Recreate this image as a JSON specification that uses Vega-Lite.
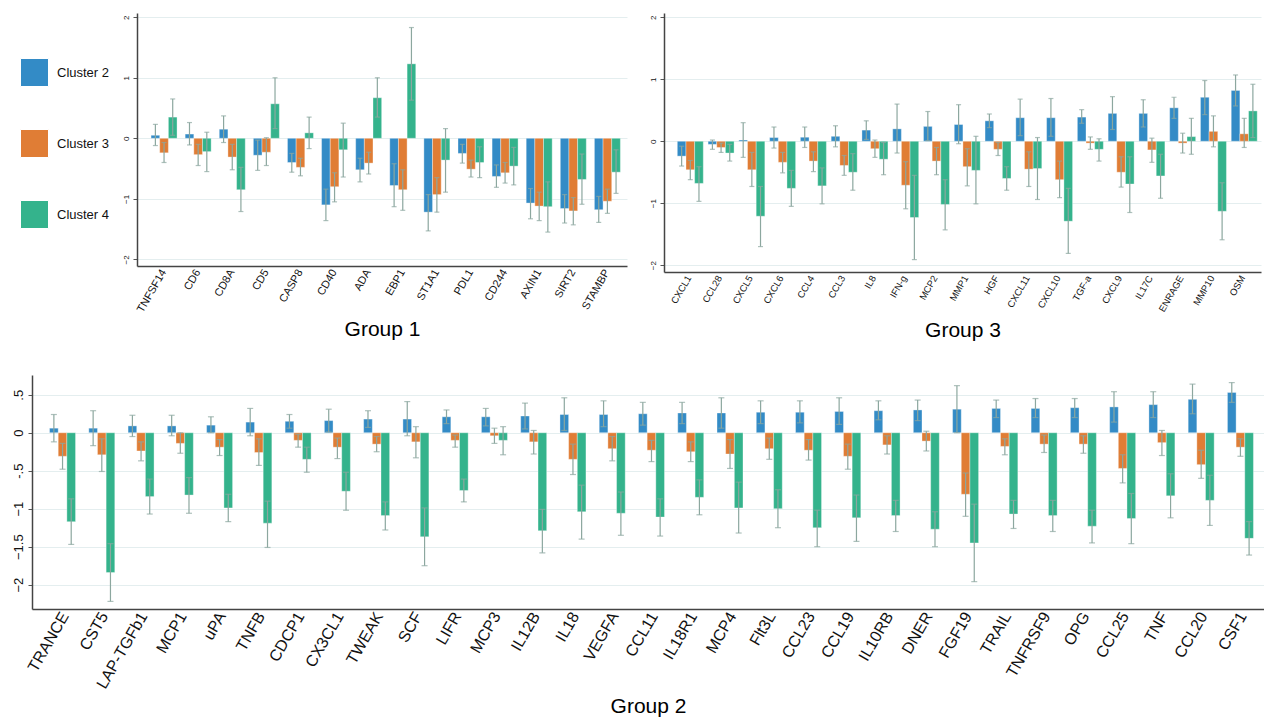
{
"$schema": "https://vega.github.io/schema/vega-lite/v6.json",
"padding": {"left": 12, "top": 13, "right": 0, "bottom": 0},
"background": "white",
"datasets": {
"g1": [
{"g":"TNFSF14","c":"Cluster 2","m":0.05,"lo":-0.12,"hi":0.23},{"g":"TNFSF14","c":"Cluster 3","m":-0.24,"lo":-0.40,"hi":-0.07},{"g":"TNFSF14","c":"Cluster 4","m":0.35,"lo":0.05,"hi":0.65},
{"g":"CD6","c":"Cluster 2","m":0.07,"lo":-0.11,"hi":0.26},{"g":"CD6","c":"Cluster 3","m":-0.27,"lo":-0.45,"hi":-0.10},{"g":"CD6","c":"Cluster 4","m":-0.22,"lo":-0.55,"hi":0.10},
{"g":"CD8A","c":"Cluster 2","m":0.15,"lo":-0.07,"hi":0.37},{"g":"CD8A","c":"Cluster 3","m":-0.31,"lo":-0.52,"hi":-0.10},{"g":"CD8A","c":"Cluster 4","m":-0.85,"lo":-1.21,"hi":-0.48},
{"g":"CD5","c":"Cluster 2","m":-0.28,"lo":-0.53,"hi":-0.03},{"g":"CD5","c":"Cluster 3","m":-0.23,"lo":-0.45,"hi":0.01},{"g":"CD5","c":"Cluster 4","m":0.57,"lo":0.16,"hi":1.0},
{"g":"CASP8","c":"Cluster 2","m":-0.40,"lo":-0.56,"hi":-0.25},{"g":"CASP8","c":"Cluster 3","m":-0.48,"lo":-0.62,"hi":-0.33},{"g":"CASP8","c":"Cluster 4","m":0.09,"lo":-0.17,"hi":0.35},
{"g":"CD40","c":"Cluster 2","m":-1.10,"lo":-1.36,"hi":-0.84},{"g":"CD40","c":"Cluster 3","m":-0.80,"lo":-1.05,"hi":-0.57},{"g":"CD40","c":"Cluster 4","m":-0.19,"lo":-0.64,"hi":0.25},
{"g":"ADA","c":"Cluster 2","m":-0.52,"lo":-0.72,"hi":-0.33},{"g":"ADA","c":"Cluster 3","m":-0.41,"lo":-0.59,"hi":-0.23},{"g":"ADA","c":"Cluster 4","m":0.67,"lo":0.35,"hi":1.0},
{"g":"EBP1","c":"Cluster 2","m":-0.78,"lo":-1.13,"hi":-0.42},{"g":"EBP1","c":"Cluster 3","m":-0.85,"lo":-1.19,"hi":-0.52},{"g":"EBP1","c":"Cluster 4","m":1.23,"lo":0.63,"hi":1.83},
{"g":"ST1A1","c":"Cluster 2","m":-1.22,"lo":-1.53,"hi":-0.93},{"g":"ST1A1","c":"Cluster 3","m":-0.93,"lo":-1.22,"hi":-0.65},{"g":"ST1A1","c":"Cluster 4","m":-0.36,"lo":-0.89,"hi":0.16},
{"g":"PDL1","c":"Cluster 2","m":-0.25,"lo":-0.41,"hi":-0.10},{"g":"PDL1","c":"Cluster 3","m":-0.51,"lo":-0.64,"hi":-0.36},{"g":"PDL1","c":"Cluster 4","m":-0.40,"lo":-0.65,"hi":-0.14},
{"g":"CD244","c":"Cluster 2","m":-0.63,"lo":-0.81,"hi":-0.44},{"g":"CD244","c":"Cluster 3","m":-0.57,"lo":-0.74,"hi":-0.40},{"g":"CD244","c":"Cluster 4","m":-0.46,"lo":-0.77,"hi":-0.15},
{"g":"AXIN1","c":"Cluster 2","m":-1.07,"lo":-1.33,"hi":-0.83},{"g":"AXIN1","c":"Cluster 3","m":-1.12,"lo":-1.36,"hi":-0.89},{"g":"AXIN1","c":"Cluster 4","m":-1.13,"lo":-1.55,"hi":-0.72},
{"g":"SIRT2","c":"Cluster 2","m":-1.16,"lo":-1.40,"hi":-0.93},{"g":"SIRT2","c":"Cluster 3","m":-1.20,"lo":-1.43,"hi":-0.98},{"g":"SIRT2","c":"Cluster 4","m":-0.68,"lo":-1.09,"hi":-0.26},
{"g":"STAMBP","c":"Cluster 2","m":-1.18,"lo":-1.39,"hi":-0.96},{"g":"STAMBP","c":"Cluster 3","m":-1.04,"lo":-1.24,"hi":-0.84},{"g":"STAMBP","c":"Cluster 4","m":-0.56,"lo":-0.91,"hi":-0.19}
],
"g3": [
{"g":"CXCL1","c":"Cluster 2","m":-0.24,"lo":-0.40,"hi":-0.08},{"g":"CXCL1","c":"Cluster 3","m":-0.46,"lo":-0.62,"hi":-0.31},{"g":"CXCL1","c":"Cluster 4","m":-0.68,"lo":-0.97,"hi":-0.41},
{"g":"CCL28","c":"Cluster 2","m":-0.05,"lo":-0.13,"hi":0.02},{"g":"CCL28","c":"Cluster 3","m":-0.10,"lo":-0.18,"hi":-0.03},{"g":"CCL28","c":"Cluster 4","m":-0.19,"lo":-0.32,"hi":-0.05},
{"g":"CXCL5","c":"Cluster 2","m":0.02,"lo":-0.26,"hi":0.30},{"g":"CXCL5","c":"Cluster 3","m":-0.46,"lo":-0.73,"hi":-0.18},{"g":"CXCL5","c":"Cluster 4","m":-1.21,"lo":-1.70,"hi":-0.73},
{"g":"CXCL6","c":"Cluster 2","m":0.06,"lo":-0.11,"hi":0.23},{"g":"CXCL6","c":"Cluster 3","m":-0.34,"lo":-0.51,"hi":-0.18},{"g":"CXCL6","c":"Cluster 4","m":-0.76,"lo":-1.05,"hi":-0.47},
{"g":"CCL4","c":"Cluster 2","m":0.065,"lo":-0.10,"hi":0.23},{"g":"CCL4","c":"Cluster 3","m":-0.32,"lo":-0.49,"hi":-0.17},{"g":"CCL4","c":"Cluster 4","m":-0.72,"lo":-1.01,"hi":-0.43},
{"g":"CCL3","c":"Cluster 2","m":0.08,"lo":-0.09,"hi":0.25},{"g":"CCL3","c":"Cluster 3","m":-0.39,"lo":-0.55,"hi":-0.23},{"g":"CCL3","c":"Cluster 4","m":-0.50,"lo":-0.79,"hi":-0.20},
{"g":"IL8","c":"Cluster 2","m":0.18,"lo":0.03,"hi":0.33},{"g":"IL8","c":"Cluster 3","m":-0.12,"lo":-0.26,"hi":0.02},{"g":"IL8","c":"Cluster 4","m":-0.29,"lo":-0.54,"hi":-0.02},
{"g":"IFN-g","c":"Cluster 2","m":0.20,"lo":-0.19,"hi":0.60},{"g":"IFN-g","c":"Cluster 3","m":-0.71,"lo":-1.09,"hi":-0.33},{"g":"IFN-g","c":"Cluster 4","m":-1.23,"lo":-1.91,"hi":-0.55},
{"g":"MCP2","c":"Cluster 2","m":0.24,"lo":0.01,"hi":0.48},{"g":"MCP2","c":"Cluster 3","m":-0.32,"lo":-0.54,"hi":-0.10},{"g":"MCP2","c":"Cluster 4","m":-1.02,"lo":-1.43,"hi":-0.62},
{"g":"MMP1","c":"Cluster 2","m":0.27,"lo":-0.04,"hi":0.59},{"g":"MMP1","c":"Cluster 3","m":-0.41,"lo":-0.72,"hi":-0.12},{"g":"MMP1","c":"Cluster 4","m":-0.47,"lo":-1.01,"hi":0.08},
{"g":"HGF","c":"Cluster 2","m":0.33,"lo":0.22,"hi":0.44},{"g":"HGF","c":"Cluster 3","m":-0.13,"lo":-0.23,"hi":-0.02},{"g":"HGF","c":"Cluster 4","m":-0.60,"lo":-0.79,"hi":-0.41},
{"g":"CXCL11","c":"Cluster 2","m":0.38,"lo":0.09,"hi":0.68},{"g":"CXCL11","c":"Cluster 3","m":-0.45,"lo":-0.73,"hi":-0.17},{"g":"CXCL11","c":"Cluster 4","m":-0.44,"lo":-0.94,"hi":0.06},
{"g":"CXCL10","c":"Cluster 2","m":0.38,"lo":0.08,"hi":0.69},{"g":"CXCL10","c":"Cluster 3","m":-0.62,"lo":-0.91,"hi":-0.32},{"g":"CXCL10","c":"Cluster 4","m":-1.29,"lo":-1.81,"hi":-0.76},
{"g":"TGF-a","c":"Cluster 2","m":0.39,"lo":0.29,"hi":0.51},{"g":"TGF-a","c":"Cluster 3","m":-0.03,"lo":-0.13,"hi":0.07},{"g":"TGF-a","c":"Cluster 4","m":-0.13,"lo":-0.32,"hi":0.04},
{"g":"CXCL9","c":"Cluster 2","m":0.45,"lo":0.19,"hi":0.72},{"g":"CXCL9","c":"Cluster 3","m":-0.50,"lo":-0.74,"hi":-0.25},{"g":"CXCL9","c":"Cluster 4","m":-0.69,"lo":-1.15,"hi":-0.25},
{"g":"IL17C","c":"Cluster 2","m":0.45,"lo":0.23,"hi":0.67},{"g":"IL17C","c":"Cluster 3","m":-0.14,"lo":-0.34,"hi":0.05},{"g":"IL17C","c":"Cluster 4","m":-0.56,"lo":-0.92,"hi":-0.21},
{"g":"ENRAGE","c":"Cluster 2","m":0.54,"lo":0.37,"hi":0.71},{"g":"ENRAGE","c":"Cluster 3","m":-0.03,"lo":-0.19,"hi":0.13},{"g":"ENRAGE","c":"Cluster 4","m":0.075,"lo":-0.21,"hi":0.37},
{"g":"MMP10","c":"Cluster 2","m":0.71,"lo":0.43,"hi":0.98},{"g":"MMP10","c":"Cluster 3","m":0.16,"lo":-0.09,"hi":0.41},{"g":"MMP10","c":"Cluster 4","m":-1.13,"lo":-1.59,"hi":-0.67},
{"g":"OSM","c":"Cluster 2","m":0.82,"lo":0.57,"hi":1.07},{"g":"OSM","c":"Cluster 3","m":0.12,"lo":-0.10,"hi":0.37},{"g":"OSM","c":"Cluster 4","m":0.49,"lo":0.06,"hi":0.92}
],
"g2": [
{"g":"TRANCE","c":"Cluster 2","m":0.06,"lo":-0.12,"hi":0.24},{"g":"TRANCE","c":"Cluster 3","m":-0.31,"lo":-0.48,"hi":-0.14},{"g":"TRANCE","c":"Cluster 4","m":-1.17,"lo":-1.47,"hi":-0.87},
{"g":"CST5","c":"Cluster 2","m":0.06,"lo":-0.17,"hi":0.29},{"g":"CST5","c":"Cluster 3","m":-0.29,"lo":-0.51,"hi":-0.08},{"g":"CST5","c":"Cluster 4","m":-1.84,"lo":-2.22,"hi":-1.46},
{"g":"LAP-TGFb1","c":"Cluster 2","m":0.09,"lo":-0.05,"hi":0.23},{"g":"LAP-TGFb1","c":"Cluster 3","m":-0.24,"lo":-0.37,"hi":-0.12},{"g":"LAP-TGFb1","c":"Cluster 4","m":-0.84,"lo":-1.07,"hi":-0.61},
{"g":"MCP1","c":"Cluster 2","m":0.09,"lo":-0.04,"hi":0.23},{"g":"MCP1","c":"Cluster 3","m":-0.14,"lo":-0.27,"hi":0.0},{"g":"MCP1","c":"Cluster 4","m":-0.82,"lo":-1.06,"hi":-0.59},
{"g":"uPA","c":"Cluster 2","m":0.10,"lo":0.0,"hi":0.21},{"g":"uPA","c":"Cluster 3","m":-0.19,"lo":-0.30,"hi":-0.09},{"g":"uPA","c":"Cluster 4","m":-0.99,"lo":-1.17,"hi":-0.81},
{"g":"TNFB","c":"Cluster 2","m":0.14,"lo":-0.04,"hi":0.32},{"g":"TNFB","c":"Cluster 3","m":-0.26,"lo":-0.43,"hi":-0.08},{"g":"TNFB","c":"Cluster 4","m":-1.19,"lo":-1.51,"hi":-0.90},
{"g":"CDCP1","c":"Cluster 2","m":0.15,"lo":0.06,"hi":0.24},{"g":"CDCP1","c":"Cluster 3","m":-0.10,"lo":-0.19,"hi":-0.02},{"g":"CDCP1","c":"Cluster 4","m":-0.35,"lo":-0.52,"hi":-0.19},
{"g":"CX3CL1","c":"Cluster 2","m":0.16,"lo":0.01,"hi":0.31},{"g":"CX3CL1","c":"Cluster 3","m":-0.19,"lo":-0.34,"hi":-0.07},{"g":"CX3CL1","c":"Cluster 4","m":-0.77,"lo":-1.02,"hi":-0.52},
{"g":"TWEAK","c":"Cluster 2","m":0.18,"lo":0.07,"hi":0.29},{"g":"TWEAK","c":"Cluster 3","m":-0.15,"lo":-0.25,"hi":-0.05},{"g":"TWEAK","c":"Cluster 4","m":-1.09,"lo":-1.28,"hi":-0.91},
{"g":"SCF","c":"Cluster 2","m":0.18,"lo":-0.04,"hi":0.41},{"g":"SCF","c":"Cluster 3","m":-0.12,"lo":-0.33,"hi":0.08},{"g":"SCF","c":"Cluster 4","m":-1.37,"lo":-1.75,"hi":-0.99},
{"g":"LIFR","c":"Cluster 2","m":0.21,"lo":0.12,"hi":0.30},{"g":"LIFR","c":"Cluster 3","m":-0.10,"lo":-0.19,"hi":-0.03},{"g":"LIFR","c":"Cluster 4","m":-0.76,"lo":-0.91,"hi":-0.61},
{"g":"MCP3","c":"Cluster 2","m":0.21,"lo":0.09,"hi":0.32},{"g":"MCP3","c":"Cluster 3","m":-0.04,"lo":-0.14,"hi":0.06},{"g":"MCP3","c":"Cluster 4","m":-0.10,"lo":-0.29,"hi":0.08},
{"g":"IL12B","c":"Cluster 2","m":0.22,"lo":0.05,"hi":0.39},{"g":"IL12B","c":"Cluster 3","m":-0.12,"lo":-0.28,"hi":0.03},{"g":"IL12B","c":"Cluster 4","m":-1.29,"lo":-1.58,"hi":-1.01},
{"g":"IL18","c":"Cluster 2","m":0.24,"lo":0.03,"hi":0.46},{"g":"IL18","c":"Cluster 3","m":-0.35,"lo":-0.55,"hi":-0.15},{"g":"IL18","c":"Cluster 4","m":-1.04,"lo":-1.40,"hi":-0.69},
{"g":"VEGFA","c":"Cluster 2","m":0.24,"lo":0.08,"hi":0.42},{"g":"VEGFA","c":"Cluster 3","m":-0.21,"lo":-0.37,"hi":-0.05},{"g":"VEGFA","c":"Cluster 4","m":-1.06,"lo":-1.35,"hi":-0.78},
{"g":"CCL11","c":"Cluster 2","m":0.25,"lo":0.10,"hi":0.40},{"g":"CCL11","c":"Cluster 3","m":-0.23,"lo":-0.38,"hi":-0.10},{"g":"CCL11","c":"Cluster 4","m":-1.11,"lo":-1.36,"hi":-0.87},
{"g":"IL18R1","c":"Cluster 2","m":0.26,"lo":0.12,"hi":0.40},{"g":"IL18R1","c":"Cluster 3","m":-0.25,"lo":-0.38,"hi":-0.12},{"g":"IL18R1","c":"Cluster 4","m":-0.85,"lo":-1.08,"hi":-0.62},
{"g":"MCP4","c":"Cluster 2","m":0.26,"lo":0.06,"hi":0.46},{"g":"MCP4","c":"Cluster 3","m":-0.28,"lo":-0.47,"hi":-0.09},{"g":"MCP4","c":"Cluster 4","m":-0.99,"lo":-1.32,"hi":-0.65},
{"g":"Flt3L","c":"Cluster 2","m":0.27,"lo":0.12,"hi":0.42},{"g":"Flt3L","c":"Cluster 3","m":-0.21,"lo":-0.35,"hi":-0.07},{"g":"Flt3L","c":"Cluster 4","m":-1.00,"lo":-1.25,"hi":-0.75},
{"g":"CCL23","c":"Cluster 2","m":0.27,"lo":0.13,"hi":0.42},{"g":"CCL23","c":"Cluster 3","m":-0.23,"lo":-0.36,"hi":-0.09},{"g":"CCL23","c":"Cluster 4","m":-1.25,"lo":-1.50,"hi":-1.02},
{"g":"CCL19","c":"Cluster 2","m":0.28,"lo":0.11,"hi":0.46},{"g":"CCL19","c":"Cluster 3","m":-0.31,"lo":-0.48,"hi":-0.15},{"g":"CCL19","c":"Cluster 4","m":-1.12,"lo":-1.43,"hi":-0.82},
{"g":"IL10RB","c":"Cluster 2","m":0.29,"lo":0.17,"hi":0.42},{"g":"IL10RB","c":"Cluster 3","m":-0.16,"lo":-0.28,"hi":-0.04},{"g":"IL10RB","c":"Cluster 4","m":-1.09,"lo":-1.30,"hi":-0.89},
{"g":"DNER","c":"Cluster 2","m":0.30,"lo":0.16,"hi":0.43},{"g":"DNER","c":"Cluster 3","m":-0.11,"lo":-0.24,"hi":0.02},{"g":"DNER","c":"Cluster 4","m":-1.27,"lo":-1.50,"hi":-1.04},
{"g":"FGF19","c":"Cluster 2","m":0.31,"lo":0.0,"hi":0.62},{"g":"FGF19","c":"Cluster 3","m":-0.81,"lo":-1.10,"hi":-0.53},{"g":"FGF19","c":"Cluster 4","m":-1.45,"lo":-1.96,"hi":-0.94},
{"g":"TRAIL","c":"Cluster 2","m":0.32,"lo":0.20,"hi":0.43},{"g":"TRAIL","c":"Cluster 3","m":-0.18,"lo":-0.29,"hi":-0.08},{"g":"TRAIL","c":"Cluster 4","m":-1.07,"lo":-1.26,"hi":-0.89},
{"g":"TNFRSF9","c":"Cluster 2","m":0.32,"lo":0.20,"hi":0.45},{"g":"TNFRSF9","c":"Cluster 3","m":-0.15,"lo":-0.26,"hi":-0.03},{"g":"TNFRSF9","c":"Cluster 4","m":-1.09,"lo":-1.30,"hi":-0.89},
{"g":"OPG","c":"Cluster 2","m":0.33,"lo":0.20,"hi":0.45},{"g":"OPG","c":"Cluster 3","m":-0.15,"lo":-0.27,"hi":-0.04},{"g":"OPG","c":"Cluster 4","m":-1.23,"lo":-1.45,"hi":-1.02},
{"g":"CCL25","c":"Cluster 2","m":0.34,"lo":0.14,"hi":0.54},{"g":"CCL25","c":"Cluster 3","m":-0.47,"lo":-0.66,"hi":-0.29},{"g":"CCL25","c":"Cluster 4","m":-1.13,"lo":-1.46,"hi":-0.80},
{"g":"TNF","c":"Cluster 2","m":0.37,"lo":0.20,"hi":0.54},{"g":"TNF","c":"Cluster 3","m":-0.13,"lo":-0.30,"hi":0.03},{"g":"TNF","c":"Cluster 4","m":-0.83,"lo":-1.12,"hi":-0.54},
{"g":"CCL20","c":"Cluster 2","m":0.44,"lo":0.25,"hi":0.64},{"g":"CCL20","c":"Cluster 3","m":-0.42,"lo":-0.60,"hi":-0.23},{"g":"CCL20","c":"Cluster 4","m":-0.89,"lo":-1.22,"hi":-0.56},
{"g":"CSF1","c":"Cluster 2","m":0.53,"lo":0.40,"hi":0.66},{"g":"CSF1","c":"Cluster 3","m":-0.19,"lo":-0.31,"hi":-0.08},{"g":"CSF1","c":"Cluster 4","m":-1.39,"lo":-1.61,"hi":-1.17}
]
},
"spacing": 34,
"vconcat": [
{
"spacing": 21,
"hconcat": [
{"data": {"values": []}, "mark": "point", "width": 69, "height": 253},
{
"data": {"name": "g1"},
"width": 490, "height": 253,
"encoding": {
"x": {"field": "g", "type": "nominal", "sort": null,
"scale": {"paddingInner": 0.238, "paddingOuter": 0.303, "align": 0.68},
"axis": {"title": "Group 1", "labelFontSize": 11, "titlePadding": 5}},
"xOffset": {"field": "c", "type": "nominal", "scale": {"paddingInner": 0, "paddingOuter": 0}}
},
"layer": [
{"mark": {"type": "bar", "stroke": "white", "strokeOpacity": 0.35, "strokeWidth": 1},
"encoding": {
"y": {"field": "m", "type": "quantitative", "scale": {"domain": [-2.11, 2.07], "nice": false, "zero": false},
"axis": {"title": null, "values": [-2, -1, 0, 1, 2], "format": "d", "labelFontSize": 8}},
"color": {"field": "c", "type": "nominal", "scale": {"domain": ["Cluster 2", "Cluster 3", "Cluster 4"], "range": ["#338bc6", "#e07d35", "#34b38c"]},
"legend": {"orient": "none", "legendX": -17, "legendY": 40, "padding": 5, "title": null, "symbolType": "square", "symbolSize": 784, "symbolStrokeWidth": 1, "symbolOpacity": 1, "labelFontSize": 13, "labelOffset": 8, "rowPadding": 38, "labelColor": "#111"}}
}},
{"mark": {"type": "rule", "color": "#8ca79f", "strokeWidth": 1.2},
"encoding": {"y": {"field": "lo", "type": "quantitative"}, "y2": {"field": "hi"}}},
{"mark": {"type": "tick", "color": "#8ca79f", "size": 5, "thickness": 1.2, "orient": "horizontal"},
"encoding": {"y": {"field": "lo", "type": "quantitative"}}},
{"mark": {"type": "tick", "color": "#8ca79f", "size": 5, "thickness": 1.2, "orient": "horizontal"},
"encoding": {"y": {"field": "hi", "type": "quantitative"}}}
]
},
{
"data": {"name": "g3"},
"width": 597, "height": 259,
"encoding": {
"x": {"field": "g", "type": "nominal", "sort": null,
"scale": {"paddingInner": 0.236, "paddingOuter": 0.318, "align": 0.68},
"axis": {"title": "Group 3", "labelFontSize": 9.5, "titlePadding": 7}},
"xOffset": {"field": "c", "type": "nominal", "scale": {"paddingInner": 0, "paddingOuter": 0}}
},
"layer": [
{"mark": {"type": "bar", "stroke": "white", "strokeOpacity": 0.35, "strokeWidth": 1},
"encoding": {
"y": {"field": "m", "type": "quantitative", "scale": {"domain": [-2.11, 2.07], "nice": false, "zero": false},
"axis": {"title": null, "values": [-2, -1, 0, 1, 2], "format": "d", "labelFontSize": 8}},
"color": {"field": "c", "type": "nominal", "scale": {"domain": ["Cluster 2", "Cluster 3", "Cluster 4"], "range": ["#338bc6", "#e07d35", "#34b38c"]}}
}},
{"mark": {"type": "rule", "color": "#8ca79f", "strokeWidth": 1.2},
"encoding": {"y": {"field": "lo", "type": "quantitative"}, "y2": {"field": "hi"}}},
{"mark": {"type": "tick", "color": "#8ca79f", "size": 5, "thickness": 1.2, "orient": "horizontal"},
"encoding": {"y": {"field": "lo", "type": "quantitative"}}},
{"mark": {"type": "tick", "color": "#8ca79f", "size": 5, "thickness": 1.2, "orient": "horizontal"},
"encoding": {"y": {"field": "hi", "type": "quantitative"}}}
]
}
]
},
{
"data": {"name": "g2"},
"width": 1232, "height": 234,
"encoding": {
"x": {"field": "g", "type": "nominal", "sort": null,
"scale": {"paddingInner": 0.21, "paddingOuter": 0.294, "align": 0.76},
"axis": {"title": "Group 2", "labelFontSize": 16, "titlePadding": 5}},
"xOffset": {"field": "c", "type": "nominal", "scale": {"paddingInner": 0, "paddingOuter": 0}}
},
"layer": [
{"mark": {"type": "bar", "stroke": "white", "strokeOpacity": 0.35, "strokeWidth": 1},
"encoding": {
"y": {"field": "m", "type": "quantitative", "scale": {"domain": [-2.32, 0.76], "nice": false, "zero": false},
"axis": {"title": null, "values": [-2, -1.5, -1, -0.5, 0, 0.5], "labelFontSize": 13,
"labelExpr": "datum.value == 0.5 ? '.5' : datum.value == -0.5 ? '-.5' : format(datum.value, '~g')"}},
"color": {"field": "c", "type": "nominal", "scale": {"domain": ["Cluster 2", "Cluster 3", "Cluster 4"], "range": ["#338bc6", "#e07d35", "#34b38c"]}}
}},
{"mark": {"type": "rule", "color": "#8ca79f", "strokeWidth": 1.2},
"encoding": {"y": {"field": "lo", "type": "quantitative"}, "y2": {"field": "hi"}}},
{"mark": {"type": "tick", "color": "#8ca79f", "size": 6, "thickness": 1.2, "orient": "horizontal"},
"encoding": {"y": {"field": "lo", "type": "quantitative"}}},
{"mark": {"type": "tick", "color": "#8ca79f", "size": 6, "thickness": 1.2, "orient": "horizontal"},
"encoding": {"y": {"field": "hi", "type": "quantitative"}}}
]
}
],
"config": {
"view": {"stroke": null},
"font": "Liberation Sans",
"axis": {"domainColor": "#444", "domainWidth": 1.5, "tickColor": "#555", "labelColor": "#111", "titleColor": "#000", "titleFontWeight": "normal", "titleFontSize": 21, "gridColor": "#e4eeef", "gridWidth": 1},
"axisX": {"ticks": false, "grid": false, "labelAngle": -60, "labelAlign": "right", "labelBaseline": "middle", "labelPadding": 4},
"axisY": {"grid": true, "ticks": true, "tickSize": 4, "labelAngle": -90, "labelAlign": "center", "labelBaseline": "bottom", "labelPadding": 3}
}
}
